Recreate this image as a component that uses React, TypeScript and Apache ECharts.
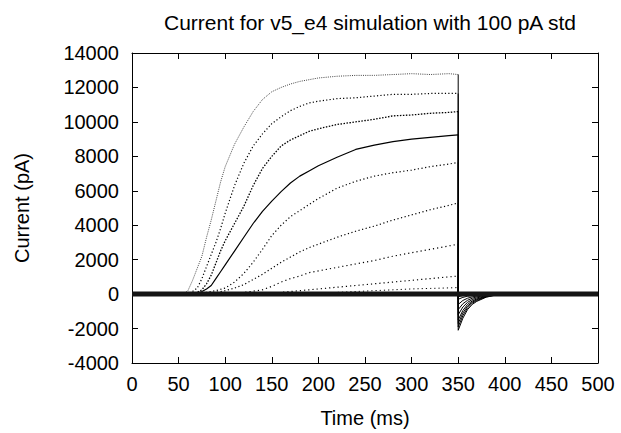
import React, { useEffect, useRef } from "react";
import * as echarts from "echarts";

const titleText = "Current for v5_e4 simulation with 100 pA std";
const xName = "Time (ms)";
const yName = "Current (pA)";

// common time grid for the step (ms)
const T = [0, 55, 60, 65, 70, 75, 80, 85, 90, 95, 100, 110, 120, 130, 140, 150, 160, 170, 180, 190, 200, 220, 240, 260, 280, 300, 320, 340, 350];
// time grid for the tail after the step (ms)
const tailT = [350, 355, 360, 365, 370, 380, 390, 400, 500];

const trace1 = [0, 0, 200, 800, 1500, 2200, 3300, 4300, 5400, 6500, 7400, 8700, 9700, 10600, 11300, 11750, 12000, 12200, 12350, 12450, 12550, 12650, 12700, 12700, 12750, 12800, 12750, 12800, 12750];
const trace2 = [0, 0, 0, 150, 350, 900, 1600, 2300, 3000, 3800, 4700, 6300, 7600, 8600, 9300, 9900, 10300, 10650, 10900, 11100, 11200, 11350, 11400, 11500, 11600, 11600, 11650, 11650, 11650];
const trace3 = [0, 0, 0, 0, 100, 250, 600, 1100, 1800, 2500, 3100, 4100, 5100, 6300, 7300, 8000, 8600, 8950, 9200, 9450, 9600, 9850, 10000, 10150, 10350, 10400, 10500, 10550, 10600];
const trace4 = [0, 0, 0, 0, 50, 150, 300, 500, 900, 1300, 1700, 2500, 3300, 4100, 4800, 5400, 5950, 6450, 6850, 7150, 7450, 7950, 8400, 8650, 8850, 9000, 9100, 9200, 9250];
const trace5 = [0, 0, 0, 0, 0, 50, 100, 150, 200, 280, 350, 700, 1200, 1850, 2600, 3400, 4000, 4500, 4850, 5200, 5550, 6150, 6550, 6850, 7050, 7200, 7400, 7550, 7650];
const trace6 = [0, 0, 0, 0, 0, 0, 0, 50, 100, 150, 200, 350, 550, 850, 1150, 1500, 1850, 2150, 2450, 2700, 2900, 3300, 3650, 3950, 4300, 4600, 4900, 5150, 5300];
const trace7 = [0, 0, 0, 0, 0, 0, 0, 0, 0, 0, 0, 50, 100, 170, 250, 450, 700, 900, 1050, 1250, 1350, 1550, 1750, 1950, 2200, 2400, 2600, 2800, 2900];
const trace8 = [0, 0, 0, 0, 0, 0, 0, 0, 0, 0, 0, 0, 0, 0, 0, 50, 100, 150, 200, 250, 300, 400, 500, 600, 700, 800, 900, 1000, 1050];
const trace9 = [0, 0, 0, 0, 0, 0, 0, 0, 0, 0, 0, 0, 0, 0, 0, 0, 0, 0, 0, 0, 50, 100, 150, 200, 250, 300, 330, 360, 380];

const tail1 = [-2100, -1400, -900, -600, -420, -180, -60, 0, 0];
const tail2 = [-1900, -1250, -800, -530, -370, -160, -50, 0, 0];
const tail3 = [-1700, -1100, -700, -470, -320, -140, -40, 0, 0];
const tail4 = [-1500, -950, -600, -400, -280, -120, -40, 0, 0];
const tail5 = [-1200, -750, -480, -320, -220, -90, -30, 0, 0];
const tail6 = [-900, -560, -360, -240, -160, -70, -20, 0, 0];
const tail7 = [-600, -370, -240, -160, -110, -50, -15, 0, 0];
const tail8 = [-300, -190, -120, -80, -55, -25, -10, 0, 0];
const tail9 = [-150, -90, -60, -40, -25, -10, 0, 0, 0];

const baselineT = [0, 500];
const baselineV = [0, 0];

const xTicks = [0, 50, 100, 150, 200, 250, 300, 350, 400, 450, 500];
const yTicks = [-4000, -2000, 0, 2000, 4000, 6000, 8000, 10000, 12000, 14000];

const FONT = "'Liberation Sans', Arial, Helvetica, sans-serif";

export default function App() {
  const ref = useRef<HTMLDivElement>(null);
  useEffect(() => {
    if (!ref.current) return;
    const chart = echarts.init(ref.current, undefined, { renderer: "svg" });
    const rise = (vals: number[]) => T.map((t, i) => [t, vals[i]]);
    const fall = (vals: number[], tail: number[]) =>
      [[T[T.length - 1], vals[vals.length - 1]]].concat(tailT.map((t, j) => [t, tail[j]]));
    const traces = [
      { v: trace1, t: tail1, color: "#444", type: [1, 1.2], w: 1 },
      { v: trace2, t: tail2, color: "#000", type: [1.2, 2.2], w: 1.2 },
      { v: trace3, t: tail3, color: "#000", type: [1.5, 1.5], w: 1.3 },
      { v: trace4, t: tail4, color: "#000", type: "solid", w: 1.2 },
      { v: trace5, t: tail5, color: "#000", type: [1.2, 2.5], w: 1.2 },
      { v: trace6, t: tail6, color: "#000", type: [1.2, 2.5], w: 1.2 },
      { v: trace7, t: tail7, color: "#000", type: [1.2, 3], w: 1.2 },
      { v: trace8, t: tail8, color: "#000", type: [1.2, 3], w: 1.2 },
      { v: trace9, t: tail9, color: "#000", type: [1.2, 3], w: 1 },
    ];
    const axisCommon = {
      type: "value" as const,
      axisLine: { show: true, onZero: false, lineStyle: { color: "#000", width: 1 } },
      axisTick: { show: true, inside: true, length: 6, lineStyle: { color: "#000" } },
      splitLine: { show: false },
    };
    chart.setOption({
      animation: false,
      backgroundColor: "#fff",
      title: {
        text: titleText,
        left: 365,
        top: 7,
        textAlign: "center",
        textStyle: { fontFamily: FONT, fontSize: 21, fontWeight: "normal", color: "#000" },
      },
      grid: { left: 132, right: 23, top: 53, bottom: 69 },
      xAxis: [
        {
          ...axisCommon,
          position: "bottom",
          min: 0,
          max: 500,
          interval: 50,
          name: xName,
          nameLocation: "middle",
          nameGap: 45,
          nameTextStyle: { fontFamily: FONT, fontSize: 20, color: "#000" },
          axisLabel: { show: true, margin: 11, fontFamily: FONT, fontSize: 20, color: "#000", formatter: (v: number) => (xTicks.includes(v) ? String(v) : "") },
        },
        {
          ...axisCommon,
          position: "top",
          min: 0,
          max: 500,
          interval: 50,
          axisLabel: { show: false },
        },
      ],
      yAxis: [
        {
          ...axisCommon,
          position: "left",
          min: -4000,
          max: 14000,
          interval: 2000,
          name: yName,
          nameLocation: "middle",
          nameGap: 100,
          nameTextStyle: { fontFamily: FONT, fontSize: 20, color: "#000" },
          axisLabel: { show: true, margin: 13, fontFamily: FONT, fontSize: 20, color: "#000", formatter: (v: number) => (yTicks.includes(v) ? String(v) : "") },
        },
        {
          ...axisCommon,
          position: "right",
          min: -4000,
          max: 14000,
          interval: 2000,
          axisLabel: { show: false },
        },
      ],
      series: [
        ...traces.map((tr, i) => ({
          type: "line",
          name: "trace" + (i + 1),
          data: rise(tr.v),
          showSymbol: false,
          symbol: "none",
          lineStyle: { color: tr.color, width: tr.w, type: tr.type },
          z: 3,
        })),
        ...traces.map((tr, i) => ({
          type: "line",
          name: "tail" + (i + 1),
          data: fall(tr.v, tr.t),
          showSymbol: false,
          symbol: "none",
          lineStyle: { color: "#000", width: 1, type: "solid" },
          z: 3,
        })),
        {
          type: "line",
          name: "baseline",
          data: baselineT.map((t, i) => [t, baselineV[i]]),
          symbol: "none",
          lineStyle: { color: "#151515", width: 5 },
          z: 4,
        },
      ],
    });
    return () => chart.dispose();
  }, []);
  return <div ref={ref} style={{ position: "fixed", left: 0, top: 0, width: 621, height: 433, background: "#fff" }} />;
}
